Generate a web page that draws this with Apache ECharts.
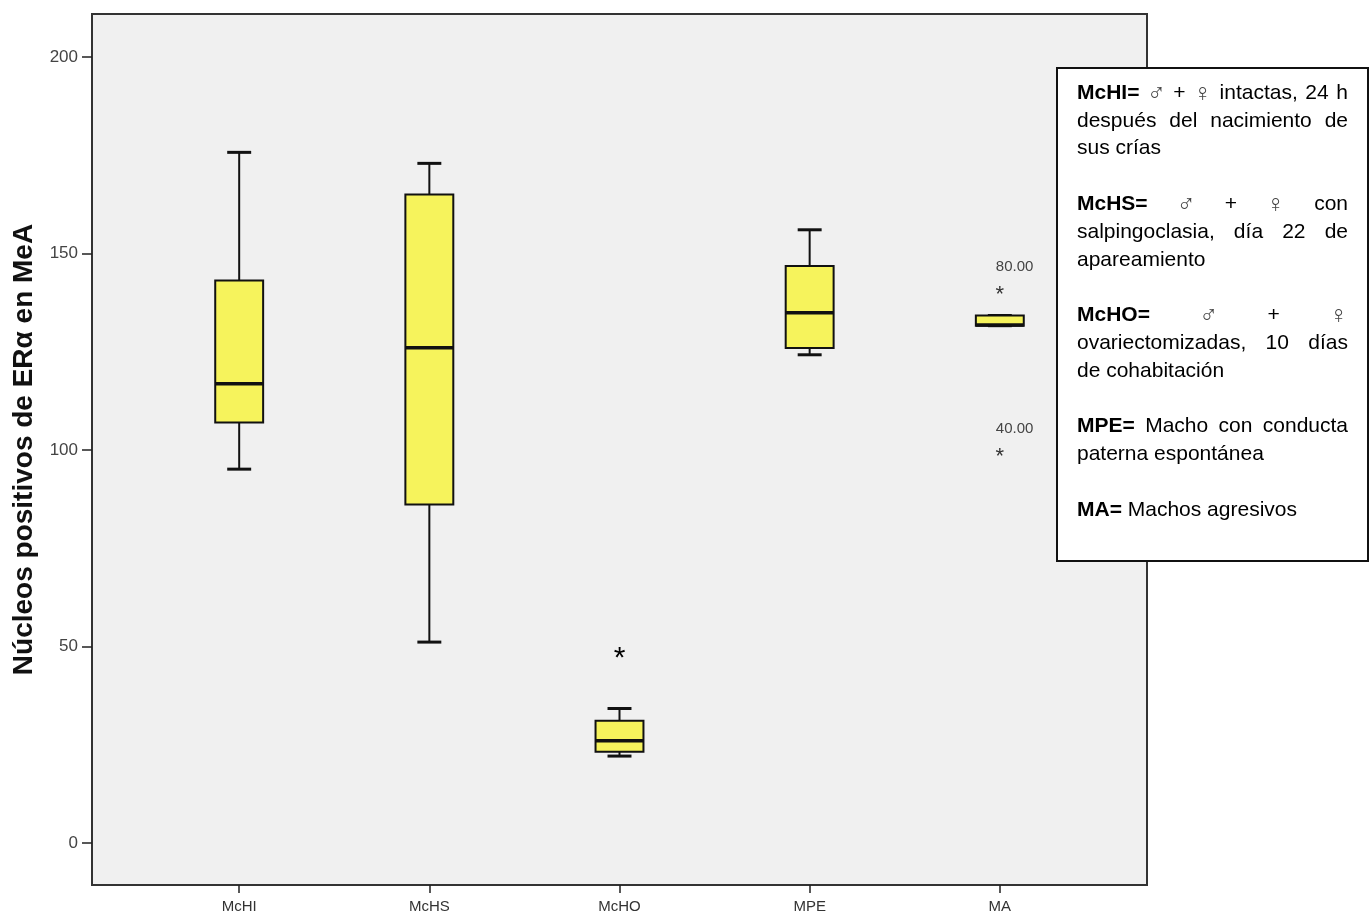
<!DOCTYPE html>
<html>
<head>
<meta charset="utf-8">
<script src="https://cdn.jsdelivr.net/npm/echarts@6/dist/echarts.min.js"></script>
<style>
  html, body { margin: 0; padding: 0; background: #ffffff; }
  #chart { width: 1371px; height: 924px; }
</style>
</head>
<body>
<div id="chart"></div>
<script>
// Groups and five-number summaries (whisker ends, quartiles, median)
const groups = ['McHI', 'McHS', 'McHO', 'MPE', 'MA'];
const whiskerLow  = [95.1, 51.1, 22.1, 124.2, 131.6];
const quartile1   = [107.0, 86.1, 23.2, 125.9, 131.6];
const medians     = [116.8, 126.0, 26.0, 134.9, 131.8];
const quartile3   = [143.1, 165.0, 31.1, 146.8, 134.2];
const whiskerHigh = [175.7, 172.9, 34.2, 156.0, 134.2];

// Extreme values (drawn as asterisks) and their case labels
const extremeGroup  = ['McHO', 'MA', 'MA'];
const extremeValues = [48.5, 140.7, 99.5];
const extremeCase   = ['', '80.00', '40.00'];

// Axis extents and tick values
const yRange = [-10.7, 210.9];
const yTicks = [0, 50, 100, 150, 200];
const xRange = [-0.774, 4.774];
const xTicks = groups.map((g, i) => i);

const yTitle = 'Núcleos positivos de ERα en MeA';

// Notes box: one entry per paragraph, one string per printed line
const notes = [
  ['McHI= ♂ + ♀ intactas, 24 h', 'después del nacimiento de', 'sus crías'],
  ['McHS= ♂ + ♀ con', 'salpingoclasia, día 22 de', 'apareamiento'],
  ['McHO= ♂ + ♀', 'ovariectomizadas, 10 días', 'de cohabitación'],
  ['MPE= Macho con conducta', 'paterna espontánea'],
  ['MA= Machos agresivos']
];

const boxData = groups.map((g, i) => [i, whiskerLow[i], quartile1[i], medians[i], quartile3[i], whiskerHigh[i]]);
const extremeData = extremeGroup.map((g, i) => [groups.indexOf(g), extremeValues[i], extremeCase[i]]);

const FILL = '#f6f35c';
const INK = '#111111';
const SANS = 'Liberation Sans, Arial, sans-serif';

function renderBox(params, api) {
  const x = api.value(0);
  const pLow = api.coord([x, api.value(1)]);
  const pQ1 = api.coord([x, api.value(2)]);
  const pMed = api.coord([x, api.value(3)]);
  const pQ3 = api.coord([x, api.value(4)]);
  const pHigh = api.coord([x, api.value(5)]);
  const unit = api.size([1, 0])[0];
  const bw = unit * 0.252;
  const cw = bw * 0.5;
  const cx = pQ1[0];
  const line = { stroke: INK, lineWidth: 2 };
  const cap = { stroke: INK, lineWidth: 3 };
  return {
    type: 'group',
    children: [
      { type: 'line', shape: { x1: cx, y1: pQ3[1], x2: cx, y2: pHigh[1] }, style: line },
      { type: 'line', shape: { x1: cx - cw / 2, y1: pHigh[1], x2: cx + cw / 2, y2: pHigh[1] }, style: cap },
      { type: 'line', shape: { x1: cx, y1: pQ1[1], x2: cx, y2: pLow[1] }, style: line },
      { type: 'line', shape: { x1: cx - cw / 2, y1: pLow[1], x2: cx + cw / 2, y2: pLow[1] }, style: cap },
      { type: 'rect', shape: { x: cx - bw / 2, y: pQ3[1], width: bw, height: pQ1[1] - pQ3[1] },
        style: { fill: FILL, stroke: INK, lineWidth: 2 } },
      { type: 'line', shape: { x1: cx - bw / 2, y1: pMed[1], x2: cx + bw / 2, y2: pMed[1] }, style: { stroke: INK, lineWidth: 3.5 } }
    ]
  };
}

function renderExtreme(params, api) {
  const p = api.coord([api.value(0), api.value(1)]);
  const label = extremeData[params.dataIndex][2];
  const big = label === '';
  const size = big ? 30 : 22;
  const children = [{
    type: 'text',
    x: p[0], y: p[1] + size * 0.22,
    style: { text: '*', fontSize: size, fontFamily: SANS,
      fill: big ? '#000' : '#333', align: 'center', verticalAlign: 'middle' }
  }];
  if (label) {
    children.push({
      type: 'text',
      x: p[0] - 4, y: p[1] - 23,
      style: { text: label, fontSize: 15, fontFamily: SANS,
        fill: '#444', align: 'left', verticalAlign: 'middle' }
    });
  }
  return { type: 'group', children };
}

// Justified notes box built from measured word widths
const measureCtx = document.createElement('canvas').getContext('2d');
const SYM_FONT = 'DejaVu Sans, sans-serif';
const NOTE_SIZE = 21;
const SYM_SIZE = 25;
function wordStyle(word, first) {
  if (word === '♂' || word === '♀') return { family: SYM_FONT, weight: 200, color: '#444', size: SYM_SIZE };
  if (first && /=$/.test(word)) return { family: SANS, weight: 'bold', color: '#000', size: NOTE_SIZE };
  return { family: SANS, weight: 'normal', color: '#000', size: NOTE_SIZE };
}
function measure(word, st) {
  measureCtx.font = (st.weight === 'bold' ? 'bold ' : st.weight === 200 ? '200 ' : '') + st.size + 'px ' + st.family;
  return measureCtx.measureText(word).width;
}
function buildNotes(box) {
  const els = [{
    type: 'rect',
    shape: { x: box.x, y: box.y, width: box.w, height: box.h },
    style: { fill: '#ffffff', stroke: '#111', lineWidth: 2 },
    z: 10
  }];
  const left = box.x + 20, width = box.w - 40;
  let y = box.y + 25;
  const lh = 27.8;
  notes.forEach((para) => {
    para.forEach((line, li) => {
      const words = line.split(' ');
      const styles = words.map((w, wi) => wordStyle(w, li === 0 && wi === 0));
      const widths = words.map((w, wi) => measure(w, styles[wi]));
      const total = widths.reduce((a, b) => a + b, 0);
      const justify = li < para.length - 1 && words.length > 1;
      measureCtx.font = NOTE_SIZE + 'px ' + SANS;
      const gap = justify ? (width - total) / (words.length - 1) : measureCtx.measureText(' ').width;
      let x = left;
      words.forEach((w, wi) => {
        els.push({
          type: 'text', x: x, y: y + (styles[wi].size !== NOTE_SIZE ? 1 : 0), z: 11,
          style: { text: w, fontSize: styles[wi].size, fontFamily: styles[wi].family, fontWeight: styles[wi].weight,
            fill: styles[wi].color, align: 'left', verticalAlign: 'middle' }
        });
        x += widths[wi] + gap;
      });
      y += lh;
    });
    y += lh;
  });
  return els;
}

const chart = echarts.init(document.getElementById('chart'), null, { renderer: 'canvas' });

chart.setOption({
  backgroundColor: '#ffffff',
  animation: false,
  grid: {
    left: 92, top: 14, right: 224, bottom: 39, show: true,
    backgroundColor: '#f0f0f0', borderColor: '#333333', borderWidth: 2
  },
  xAxis: {
    type: 'value', min: xRange[0], max: xRange[1],
    axisLine: { show: false, onZero: false },
    axisTick: { show: true, customValues: xTicks, length: 8, lineStyle: { color: '#222', width: 1.5 } },
    axisLabel: { customValues: xTicks, formatter: v => groups[Math.round(v)],
      fontSize: 15, color: '#333', margin: 14, fontFamily: SANS },
    splitLine: { show: false }
  },
  yAxis: {
    type: 'value', min: yRange[0], max: yRange[1],
    name: yTitle, nameLocation: 'middle', nameGap: 17,
    nameTextStyle: { fontSize: 28, fontWeight: 'bold', color: '#111', fontFamily: SANS },
    axisLine: { show: false, onZero: false },
    axisTick: { show: true, customValues: yTicks, length: 10, lineStyle: { color: '#222', width: 1.5 } },
    axisLabel: { customValues: yTicks, fontSize: 17, color: '#444', margin: 14, fontFamily: SANS },
    splitLine: { show: false }
  },
  series: [
    {
      type: 'custom',
      renderItem: renderBox,
      encode: { x: 0, y: [1, 2, 3, 4, 5] },
      data: boxData, z: 5
    },
    {
      type: 'custom',
      renderItem: renderExtreme,
      encode: { x: 0, y: 1 },
      data: extremeData, z: 6
    }
  ],
  graphic: buildNotes({ x: 1057, y: 68, w: 311, h: 493 })
});
</script>
</body>
</html>
